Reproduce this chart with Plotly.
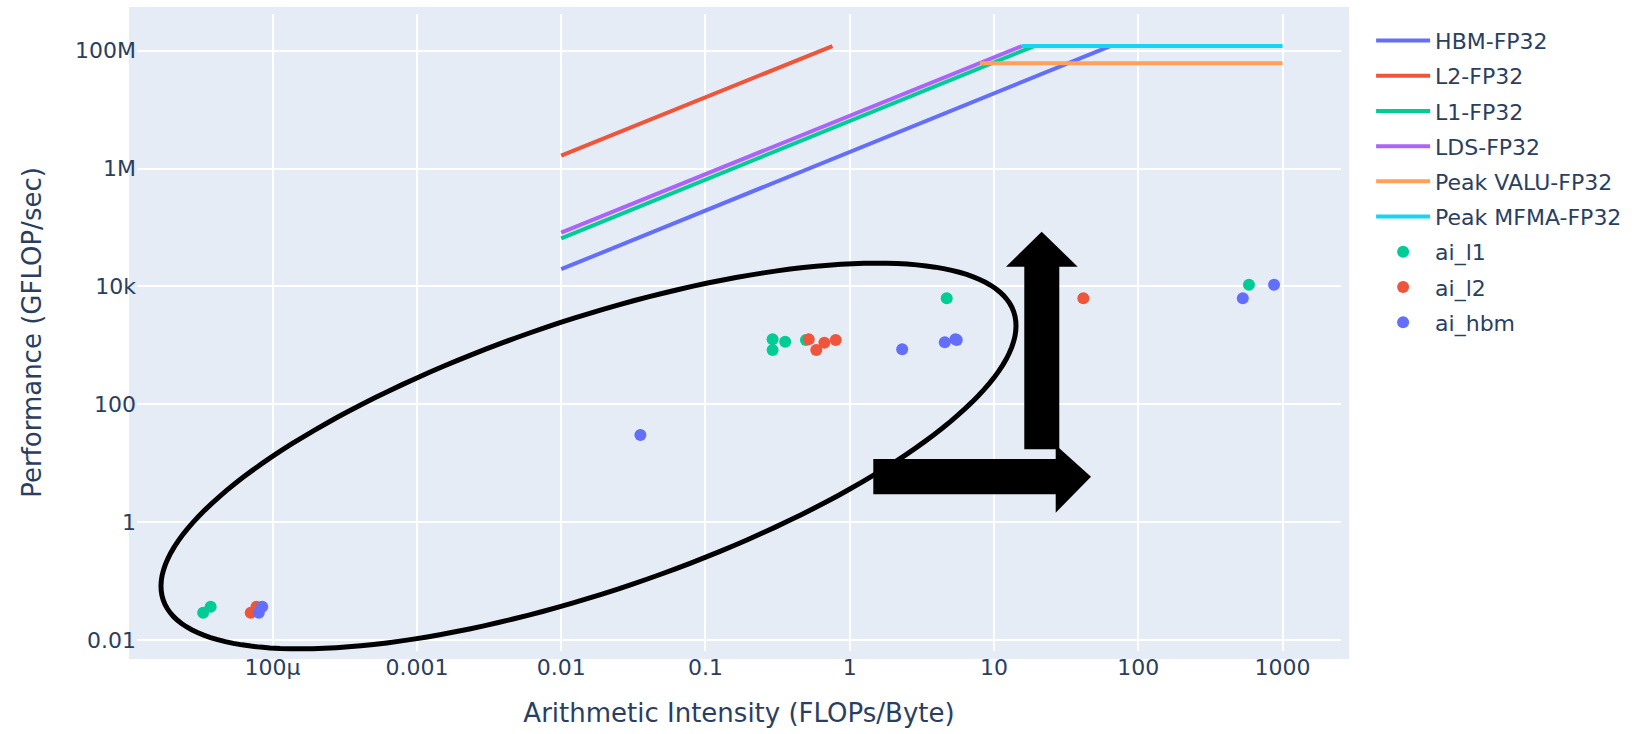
import numpy as np
import plotly.graph_objects as go

# ---------------- data ----------------
# Roofline segments: [start, end] points
hbm_x = [0.01, 63.9]
hbm_y = [1.96e4, 1.2e8]
l2_x = [0.01, 0.759]
l2_y = [1.66e6, 1.2e8]
l1_x = [0.01, 19.0]
l1_y = [6.56e4, 1.2e8]
lds_x = [0.01, 15.6]
lds_y = [8.18e4, 1.2e8]
valu_x = [7.98, 1000]
valu_y = [6.11e7, 6.11e7]
mfma_x = [15.6, 1000]
mfma_y = [1.2e8, 1.2e8]

# Kernel arithmetic intensities / performance
ai_l1_x = [3.30e-5, 3.72e-5, 0.292, 0.292, 0.357, 0.497, 4.70, 585]
ai_l1_y = [0.029, 0.0367, 834, 1268, 1153, 1233, 6280, 10660]
ai_l2_x = [7.05e-5, 7.73e-5, 0.520, 0.586, 0.667, 0.800, 41.6]
ai_l2_y = [0.029, 0.0367, 1268, 834, 1109, 1233, 6280]
ai_hbm_x = [8.02e-5, 8.47e-5, 0.0354, 2.31, 4.56, 5.40, 5.52, 530, 873]
ai_hbm_y = [0.029, 0.0367, 30.1, 857, 1127, 1268, 1233, 6280, 10660]

line_series = [
    ("HBM-FP32", hbm_x, hbm_y, "#636EFA"),
    ("L2-FP32", l2_x, l2_y, "#EF553B"),
    ("L1-FP32", l1_x, l1_y, "#00CC96"),
    ("LDS-FP32", lds_x, lds_y, "#AB63FA"),
    ("Peak VALU-FP32", valu_x, valu_y, "#FFA15A"),
    ("Peak MFMA-FP32", mfma_x, mfma_y, "#19D3F3"),
]
point_series = [
    ("ai_l1", ai_l1_x, ai_l1_y, "#00CC96"),
    ("ai_l2", ai_l2_x, ai_l2_y, "#EF553B"),
    ("ai_hbm", ai_hbm_x, ai_hbm_y, "#636EFA"),
]

fig = go.Figure()
for name, xs, ys, c in line_series:
    fig.add_trace(go.Scatter(x=xs, y=ys, mode="lines", name=name, legendgroup=name,
                             line=dict(color=c, width=4)))
for name, xs, ys, c in point_series:
    fig.add_trace(go.Scatter(x=xs, y=ys, mode="markers", name=name, legendgroup=name,
                             marker=dict(color=c, size=12)))

# ---------------- layout ----------------
W, H = 1636, 734
L, R, T, B = 137, 1341, 14, 651


def px(x):
    return (x - L) / (R - L)


def py(y):
    return (B - y) / (B - T)


def poly(points):
    return "M " + " L ".join(f"{px(x):.5f},{py(y):.5f}" for x, y in points) + " Z"


shapes = []
# plot background slightly larger than the grid area
shapes.append(dict(type="rect", xref="paper", yref="paper",
                   x0=px(L - 8), x1=px(R + 8), y0=py(B + 8), y1=py(T - 7),
                   fillcolor="#E5ECF6", line=dict(width=0), layer="below"))

# hand-drawn style ellipse annotation
cx, cy, a, b, th = 588.5, 456.0, 449.0, 135.5, np.deg2rad(18.7)
t = np.linspace(0, 2 * np.pi, 181)
ex = cx + a * np.cos(t) * np.cos(th) - b * np.sin(t) * np.sin(th)
ey = cy - (a * np.cos(t) * np.sin(th) + b * np.sin(t) * np.cos(th))
shapes.append(dict(type="path", xref="paper", yref="paper",
                   path=poly(list(zip(ex, ey))),
                   line=dict(color="black", width=5), layer="above"))

# vertical arrow
shapes.append(dict(type="path", xref="paper", yref="paper",
                   path=poly([(1024.3, 449.3), (1024.3, 266.7), (1006, 266.7),
                              (1041.7, 231.7), (1077.7, 266.7), (1059.3, 266.7),
                              (1059.3, 449.3)]),
                   fillcolor="black", line=dict(color="black", width=0), layer="above"))
# horizontal arrow
shapes.append(dict(type="path", xref="paper", yref="paper",
                   path=poly([(873.3, 459), (1055.7, 459), (1055.7, 445),
                              (1091, 476.7), (1055.7, 512.7), (1055.7, 494.3),
                              (873.3, 494.3)]),
                   fillcolor="black", line=dict(color="black", width=0), layer="above"))

FONT = "DejaVu Sans, Verdana, sans-serif"
fig.update_layout(
    width=W, height=H,
    template="plotly",
    margin=dict(l=L, r=W - R, t=T, b=H - B, pad=0, autoexpand=False),
    font=dict(family=FONT, size=22, color="#2a3f5f"),
    plot_bgcolor="#E5ECF6",
    paper_bgcolor="white",
    showlegend=True,
    legend=dict(x=1.025, y=0.991, xanchor="left", yanchor="top",
                itemwidth=54, tracegroupgap=3.6, font=dict(family=FONT, size=22),
                bgcolor="rgba(0,0,0,0)"),
    shapes=shapes,
)
fig.update_xaxes(type="log", range=[-4.940, 3.405], dtick=1,
                 gridcolor="white", gridwidth=2, zeroline=False, showline=False,
                 automargin=False, ticklabelstandoff=1,
                 tickfont=dict(family=FONT, size=22),
                 title=dict(text="Arithmetic Intensity (FLOPs/Byte)",
                            font=dict(family=FONT, size=26), standoff=24))
fig.update_yaxes(type="log", range=[-2.187, 8.623], dtick=2,
                 gridcolor="white", gridwidth=2, zeroline=False, showline=False,
                 automargin=False,
                 tickfont=dict(family=FONT, size=22),
                 title=dict(text="Performance (GFLOP/sec)",
                            font=dict(family=FONT, size=26), standoff=25))

fig.write_html("out.html", config={"displayModeBar": False})
